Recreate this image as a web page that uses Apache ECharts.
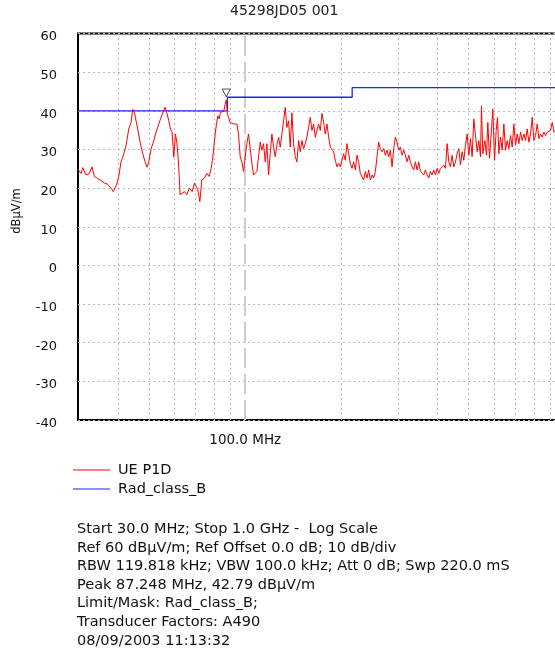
<!DOCTYPE html>
<html>
<head>
<meta charset="utf-8">
<script src="https://cdn.jsdelivr.net/npm/echarts@6/dist/echarts.min.js"></script>
<style>html,body{margin:0;padding:0;background:#fff;}#c{width:555px;height:653px;}</style>
</head>
<body>
<div id="c"></div>
<script>
// ---- data ----
const titleText = '45298JD05 001';
const yAxisName = 'dBµV/m';
const traceName = 'UE P1D';
const limitName = 'Rad_class_B';

const traceFreq = [30.0,30.29,30.66,31.03,31.78,32.55,33.19,33.75,34.57,35.41,36.27,37.15,38.06,38.70,39.26,39.65,40.22,40.90,41.60,42.40,
43.23,43.96,44.49,45.03,45.57,46.13,46.91,47.82,48.63,49.34,49.93,50.78,51.64,52.64,53.67,54.57,55.50,56.17,56.85,57.68,
58.37,59.08,59.79,60.51,61.10,61.84,62.59,63.49,64.57,65.67,66.94,68.24,69.40,69.73,71.08,72.12,73.17,74.58,75.85,77.14,
78.26,79.01,79.78,80.55,81.32,82.11,82.90,83.70,84.51,85.74,86.57,87.25,88.03,88.67,89.74,90.83,91.92,93.04,94.16,95.30,
96.45,97.62,98.80,99.99,101.20,102.42,103.66,104.92,106.18,107.47,108.77,110.08,111.41,112.76,114.12,115.50,116.90,118.31,119.74,121.19,
122.65,124.14,125.64,127.15,128.69,130.25,131.82,133.41,135.03,136.66,138.31,139.99,141.67,143.39,145.12,146.87,148.65,150.45,152.26,154.11,
155.97,157.85,159.76,161.70,163.64,165.63,167.63,169.65,171.70,173.78,175.88,178.01,180.16,182.33,184.54,186.77,189.02,191.31,193.63,195.96,
198.33,200.74,203.15,205.61,208.10,210.61,213.16,215.74,218.34,220.98,223.66,226.35,229.09,231.87,234.66,237.50,240.38,243.27,246.22,249.20,
252.20,255.26,258.35,261.46,264.63,267.83,271.06,274.34,277.66,281.00,284.41,287.85,291.32,294.85,298.42,302.01,305.67,309.37,313.09,316.88,
320.72,324.58,328.52,332.49,336.50,340.57,344.70,348.85,353.08,357.35,361.65,366.03,370.47,374.93,379.47,384.07,388.69,393.40,398.16,402.96,
407.84,412.78,417.75,422.81,427.93,433.08,438.32,443.63,448.97,454.41,459.91,465.45,471.09,476.80,482.54,488.38,494.30,500.25,506.31,512.44,
518.61,524.89,531.25,537.65,544.16,548.10,553.39,561.42,568.22,573.70,580.65,587.68,594.76,601.96,609.25,615.12,621.05,628.57,636.18,643.84,
651.64,659.53,667.47,675.56,683.74,691.97,700.35,708.83,717.36,726.05,734.84,743.69,752.70,761.82,770.99,780.32,789.77,799.28,808.97,818.76,
828.62,838.65,848.81,859.03,869.44,879.97,890.56,901.34,912.26,923.24,934.43,960.0,1000.0];

const traceLevel = [24.8,24.4,23.8,25.3,23.4,23.8,25.5,23.0,22.5,22.0,21.3,21.0,20.0,19.1,19.0,21.0,23.0,26.8,28.5,31.0,
35.3,37.0,40.4,39.6,37.4,35.3,31.9,28.9,26.8,25.4,26.8,30.2,31.9,34.5,36.6,38.3,40.0,40.9,39.6,37.4,
35.3,34.5,28.0,34.0,31.9,26.8,18.3,17.9,19.1,18.3,20.0,19.1,21.3,20.9,19.6,16.5,22.1,22.6,23.8,23.0,
25.1,27.2,30.6,34.0,36.6,38.7,37.9,39.6,39.1,40.0,41.7,42.8,39.1,38.3,37.0,37.4,36.6,37.0,36.6,34.0,
28.1,26.8,24.3,28.1,31.5,34.0,30.2,26.4,23.4,23.0,24.3,28.1,31.9,29.8,31.5,26.8,31.5,23.4,28.9,34.0,
30.6,28.1,31.1,33.2,30.6,34.0,37.4,40.9,35.7,37.4,30.6,39.5,31.5,28.1,26.8,32.3,29.4,32.3,30.2,31.5,
33.2,35.7,38.3,34.9,36.6,33.2,32.8,36.6,34.9,39.3,37.0,34.0,36.6,33.2,30.6,31.1,29.4,27.2,25.5,26.4,
25.5,26.0,28.9,27.2,31.5,28.9,26.4,25.1,26.8,24.7,28.5,26.8,23.8,24.3,22.1,24.3,22.6,24.7,22.1,23.4,
22.6,24.3,28.1,31.9,30.2,29.4,30.2,28.5,29.8,28.1,29.8,25.5,30.2,33.2,31.9,29.8,30.6,28.5,29.8,28.5,
26.8,28.5,26.8,25.5,24.7,26.8,24.7,26.8,24.3,24.7,23.4,24.7,23.4,22.6,24.3,23.4,24.7,23.4,25.1,23.8,
25.1,24.7,26.0,25.1,31.5,26.8,25.5,28.5,25.5,26.8,28.9,30.2,26.0,29.4,27.2,31.1,34.0,28.5,32.8,28.1,
37.9,38.3,29.4,32.3,28.1,41.3,28.9,32.3,28.5,37.0,27.7,34.0,40.4,27.2,34.9,38.3,28.9,33.2,29.8,36.6,
29.8,32.3,30.2,33.6,30.6,36.6,31.1,34.0,31.5,34.5,32.3,34.0,32.3,35.3,31.9,34.0,38.3,32.3,33.6,36.6,
32.8,34.0,33.2,34.5,33.6,34.5,34.0,34.9,37.0,34.5,34.0,34.6,35.0];

const limitFreq  = [30, 88, 88, 216, 216, 1000];
const limitLevel = [40, 40, 43.5, 43.5, 46, 46];

const peakFreq = 87.248;
const peakLevel = 42.79;

const freqMin = 30, freqMax = 1000;
const levelMin = -40, levelMax = 60, levelStep = 10;
const minorGridFreqs = [40, 50, 60, 70, 80, 90, 200, 300, 400, 500, 600, 700, 800, 900];
const majorGridFreq = 100;
const majorGridLabel = '100.0 MHz';

const infoLines = [
  'Start 30.0 MHz; Stop 1.0 GHz -  Log Scale',
  'Ref 60 dBµV/m; Ref Offset 0.0 dB; 10 dB/div',
  'RBW 119.818 kHz; VBW 100.0 kHz; Att 0 dB; Swp 220.0 mS',
  'Peak 87.248 MHz, 42.79 dBµV/m',
  'Limit/Mask: Rad_class_B;',
  'Transducer Factors: A490',
  '08/09/2003 11:13:32'
];

// ---- chart ----
const FONT = 'DejaVu Sans';
const chart = echarts.init(document.getElementById('c'), null, {renderer: 'canvas'});

const gridLineData = minorGridFreqs.map(f => ({
  xAxis: f,
  lineStyle: {color: '#b9b9b9', width: 1, type: [2, 3]},
  label: {show: false}
}));
gridLineData.push({
  xAxis: majorGridFreq,
  lineStyle: {color: '#cdcdcd', width: 2, type: [20, 6]},
  label: {show: true, position: 'start', formatter: majorGridLabel, distance: 13,
          color: '#111', fontSize: 13.5, fontFamily: FONT}
});

chart.setOption({
  animation: false,
  backgroundColor: '#fff',
  title: [
    {text: titleText, left: 230, top: 4, padding: 0,
     textStyle: {fontFamily: FONT, fontSize: 14, fontWeight: 'normal', color: '#222'}},
    {text: infoLines.join('\n'), left: 77, top: 520, padding: 0,
     textStyle: {fontFamily: FONT, fontSize: 14.5, fontWeight: 'normal', color: '#111', lineHeight: 18.6}}
  ],
  legend: {
    orient: 'vertical', left: 73, top: 462, padding: 0,
    itemWidth: 37, itemHeight: 1, itemGap: 3, icon: 'rect',
    data: [traceName, limitName],
    textStyle: {fontFamily: FONT, fontSize: 14.5, color: '#111', lineHeight: 16, padding: [0, 0, 0, 3]}
  },
  graphic: [{
    type: 'text', x: 17, y: 211, rotation: Math.PI / 2,
    style: {text: yAxisName, fontFamily: FONT, fontSize: 11.5, fill: '#111', align: 'center', verticalAlign: 'middle'}
  }],
  grid: {
    left: 78, top: 33.5, right: -10, bottom: 233,
    show: true, borderColor: '#000', borderWidth: 2, backgroundColor: 'transparent',
    containLabel: false, outerBoundsMode: 'none'
  },
  xAxis: {
    type: 'log', logBase: 10, min: freqMin, max: freqMax,
    axisLine: {show: false}, axisTick: {show: false}, axisLabel: {show: false},
    splitLine: {show: false}, minorSplitLine: {show: false}
  },
  yAxis: {
    type: 'value', min: levelMin, max: levelMax, interval: levelStep,
    axisLine: {show: false}, axisTick: {show: false},
    axisLabel: {
      margin: 21, formatter: '{v|{value}}',
      rich: {v: {fontFamily: FONT, fontSize: 13, color: '#111', padding: [7, 0, 0, 0]}}
    },
    splitLine: {show: true, lineStyle: {color: '#b9b9b9', width: 1, type: [2, 3]}}
  },
  series: [
    {
      name: limitName, type: 'line', z: 2, silent: true,
      data: limitFreq.map((f, i) => [f, limitLevel[i]]),
      showSymbol: false, symbol: 'none',
      lineStyle: {color: '#1f1fff', width: 1.3},
      itemStyle: {color: '#1f1fff'},
      markLine: {silent: true, symbol: ['none', 'none'], z: 1, data: gridLineData, animation: false}
    },
    {
      name: traceName, type: 'line', z: 3, silent: true,
      data: traceFreq.map((f, i) => [f, traceLevel[i]]),
      showSymbol: false, symbol: 'none',
      lineStyle: {color: '#ff0000', width: 1},
      itemStyle: {color: '#ff0000'},
      markPoint: {
        silent: true, symbol: 'triangle', symbolRotate: 180, symbolSize: [8, 8], symbolOffset: [0, -7],
        itemStyle: {color: '#f4f4f4', borderColor: '#555', borderWidth: 1},
        label: {show: false},
        data: [{coord: [peakFreq, peakLevel]}]
      }
    }
  ]
});
</script>
</body>
</html>
